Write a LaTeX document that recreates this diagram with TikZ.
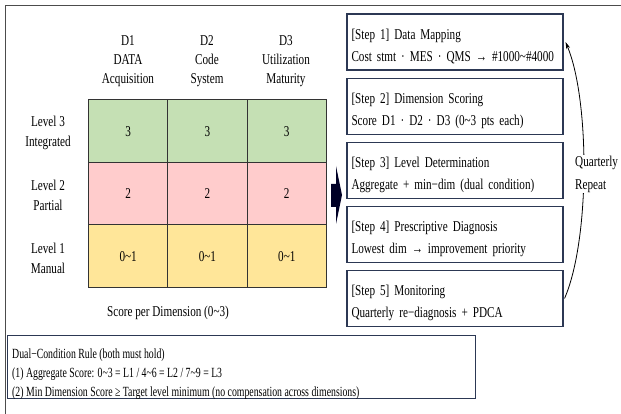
\documentclass[tikz,border=0pt]{standalone}
\usepackage{fontspec}
\setmainfont{Liberation Serif}[FakeStretch=0.745]
\newfontfamily\rulefont{Liberation Serif}[FakeStretch=0.70]
\usepackage{xcolor}
\usetikzlibrary{positioning,arrows.meta}
\definecolor{lvthree}{RGB}{197,224,180}
\definecolor{lvtwo}{RGB}{255,204,204}
\definecolor{lvone}{RGB}{255,230,153}
\definecolor{boxline}{RGB}{44,56,84}
\newcommand*\tld{\textasciitilde}
\tikzset{cell/.style={draw=black!80, line width=0.9pt, minimum width=79.33pt, minimum height=62.5pt, inner sep=0pt, anchor=north west},
         lbl/.style={align=center, inner sep=0pt},
         stepbox/.style={draw=boxline, line width=1.1pt, minimum width=216pt, minimum height=56pt,
                         text width=207pt, text height=19pt, align=left, inner sep=0pt, font=\fontsize{15}{22}\selectfont}
        }

\begin{document}
\begin{tikzpicture}[x=1pt, y=-1pt, font=\fontsize{15}{19}\selectfont]
\useasboundingbox (0,0) rectangle (621,414);
\draw[black!70, line width=1pt] (621,6) -- (5,6) -- (5,414);
\node[lbl] (hd1) at (128,61) {D1\\DATA\\Acquisition};
\node[lbl] (hd2) at (207,61) {D2\\Code\\System};
\node[lbl] (hd3) at (286,61) {D3\\Utilization\\Maturity};
\foreach \r/\c/\v/\n [count=\i] in {3/lvthree/3/Integrated, 2/lvtwo/2/Partial, 1/lvone/0\tld1/Manual}{
  \node[lbl, font=\fontsize{15}{20}\selectfont] (lv\r) at (48, {133+62.5*(\i-1)}) {Level \r\\\n};
  \foreach \d in {1,2,3}
    \node[cell, fill=\c] (c\r\d) at ({88+79.33*(\d-1)}, {99.5+62.5*(\i-1)}) {\v};
}
\node (score) at (168,313) {Score per Dimension (0\tld3)};
\fill[black!85!blue] (331,184) -- (336,184) -- (336,166) -- (342,195) -- (336,224) -- (336,207) -- (331,207) -- cycle;
\node[stepbox] (s1) at (455,42) {[Step 1] Data Mapping\\Cost stmt · MES · QMS → \#1000\tld\#4000};
\node[stepbox, below=7pt of s1] (s2) {[Step 2] Dimension Scoring\\Score D1 · D2 · D3 (0\tld3 pts each)};
\node[stepbox, below=7pt of s2] (s3) {[Step 3] Level Determination\\Aggregate + min−dim (dual condition)};
\node[stepbox, below=7pt of s3] (s4) {[Step 4] Prescriptive Diagnosis\\Lowest dim → improvement priority};
\node[stepbox, below=7pt of s4] (s5) {[Step 5] Monitoring\\Quarterly re−diagnosis + PDCA};
\draw[-{Stealth[length=7pt,width=4pt]}, line width=0.8pt] ([xshift=1pt]s5.east) .. controls (590,240) and (590,100) .. ([xshift=2pt]s1.east);
\node[fill=white, align=left, inner sep=1pt, anchor=west, font=\fontsize{15}{23}\selectfont] (rep) at (574,174) {Quarterly\\Repeat};
\node[draw=boxline, line width=1.1pt, minimum width=468pt, minimum height=63pt, anchor=north west] (rule) at (7,335) {};
\node[anchor=north west, align=left, inner sep=0pt, font=\rulefont\fontsize{14}{19}\selectfont] (ruletxt)
  at ([xshift=5pt, yshift=-14pt]rule.north west)
  {Dual−Condition Rule (both must hold)\\(1) Aggregate Score: 0\tld3 = L1 / 4\tld6 = L2 / 7\tld9 = L3\\(2) Min Dimension Score ≥ Target level minimum (no compensation across dimensions)};
\end{tikzpicture}
\end{document}
